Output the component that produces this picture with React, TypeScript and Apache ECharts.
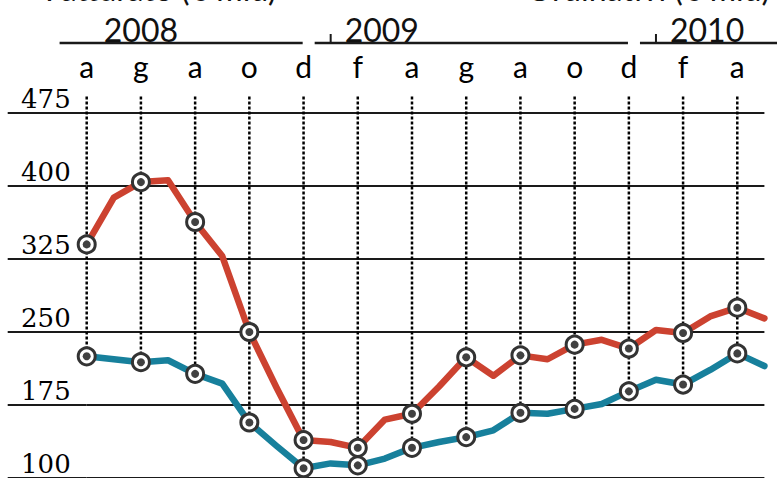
import React, { useEffect, useRef } from "react";
import * as echarts from "echarts";

// Monthly, April 2008 – May 2010 (Italian month initials)
const months = [
  "a", "m", "g", "l", "a", "s", "o", "n", "d",
  "g", "f", "m", "a", "m", "g", "l", "a", "s", "o", "n", "d",
  "g", "f", "m", "a", "m",
];
const fatturato = [
  340, 388, 404, 406, 363, 328, 250, 193, 139,
  137, 131, 160, 166, 194, 224, 205, 226, 222, 237, 242, 233,
  252, 249, 266, 275, 264,
];
const ordinativi = [
  225, 222, 219, 221, 207, 197, 157, 133, 110,
  115, 113, 120, 131, 137, 142, 149, 167, 166, 171, 176, 189,
  201, 196, 211, 228, 215,
];
const yMin = 100;
const yMax = 475;
const yStep = 75;
const guideTop = 492;
const years = ["2008", "2009", "2010"];
const yearStartIndex = [-3, 9, 21]; // January of each year
const titles = ["Fatturato (€ mld)", "Ordinativi (€ mld)"];

const RED = "#cc4230";
const BLUE = "#17809c";
const INK = "#1a1a1a";

export default function App() {
  const ref = useRef<HTMLDivElement>(null);

  useEffect(() => {
    const chart = echarts.init(ref.current!, null, { renderer: "svg" });
    const markerIdx = months.map((_, i) => i).filter((i) => i % 2 === 0);
    const symSize = (_v: any, p: any) => (p.dataIndex % 2 === 0 ? 17 : 0);

    const lineSeries = (name: string, data: number[], color: string) => ({
      name,
      type: "line",
      data,
      z: 3,
      clip: false,
      symbol: "circle",
      showAllSymbol: true,
      symbolSize: symSize,
      itemStyle: { color: "#ffffff", borderColor: "#333333", borderWidth: 3 },
      lineStyle: { color, width: 6.5, cap: "round", join: "round" },
      emphasis: { disabled: true },
    });

    const dotSeries = (data: number[]) => ({
      type: "scatter",
      z: 4,
      silent: true,
      symbol: "circle",
      symbolSize: 8,
      itemStyle: { color: "#111111" },
      data: markerIdx.map((i) => [i, data[i]]),
    });

    // vertical dotted guides: from above the plot down to the lower series' point
    const guideData: any[] = [];
    markerIdx.forEach((i) => {
      guideData.push([i, guideTop]);
      guideData.push([i, Math.min(ordinativi[i], fatturato[i])]);
      guideData.push([i, "-"]);
    });

    chart.setOption({
      animation: false,
      grid: { left: 86.7, top: 113, width: 677.7, height: 369 },
      xAxis: {
        type: "category",
        data: months,
        boundaryGap: false,
        position: "top",
        axisLine: { show: false },
        axisTick: { show: false },
        splitLine: { show: false },
        axisLabel: {
          interval: 1,
          margin: 32,
          fontFamily: "Lato",
          fontSize: 30,
          color: "#000000",
        },
      },
      yAxis: {
        type: "value",
        min: yMin,
        max: yMax,
        interval: yStep,
        axisLine: { show: false },
        axisTick: { show: true, length: 79, lineStyle: { color: INK, width: 2 } },
        splitLine: { lineStyle: { color: INK, width: 2 } },
        axisLabel: {
          margin: 16,
          fontFamily: "DejaVu Serif",
          fontSize: 26,
          color: "#000000",
          verticalAlign: "bottom",
          padding: [0, 0, 1, 0],
        },
      },
      series: [
        {
          type: "line",
          data: guideData,
          z: 1,
          silent: true,
          clip: false,
          symbol: "none",
          connectNulls: false,
          lineStyle: { type: [3, 2], color: "#000000", width: 2.5 },
          emphasis: { disabled: true },
        },
        lineSeries("Ordinativi", ordinativi, BLUE),
        lineSeries("Fatturato", fatturato, RED),
        dotSeries(ordinativi),
        dotSeries(fatturato),
      ],
    });

    const x0 = chart.convertToPixel({ xAxisIndex: 0 }, 0) as number;
    const x1 = chart.convertToPixel({ xAxisIndex: 0 }, 1) as number;
    const step = x1 - x0;
    const xAt = (f: number) => x0 + f * step;
    const lineY = 43;
    const textStyle = {
      fontFamily: "Lato",
      fontSize: 32,
      fill: "#111111",
      verticalAlign: "bottom",
    };
    const graphics: any[] = [];
    years.forEach((y, k) => {
      const start = yearStartIndex[k];
      const next = k + 1 < years.length ? yearStartIndex[k + 1] : null;
      const segStart = k === 0 ? xAt(-1) : xAt(start) - 16;
      const segEnd = next === null ? 777 : xAt(next) - 28;
      graphics.push({
        type: "line",
        shape: { x1: segStart, y1: lineY, x2: segEnd, y2: lineY },
        style: { stroke: INK, lineWidth: 2.5 },
        silent: true,
      });
      if (k === 0) {
        graphics.push({
          type: "text",
          x: xAt(2),
          y: lineY + 2,
          style: { ...textStyle, text: y, align: "center" },
          silent: true,
        });
      } else {
        const tx = xAt(start);
        graphics.push({
          type: "line",
          shape: { x1: tx, y1: lineY - 9, x2: tx, y2: lineY },
          style: { stroke: INK, lineWidth: 2 },
          silent: true,
        });
        graphics.push({
          type: "text",
          x: tx + 14,
          y: lineY + 2,
          style: { ...textStyle, text: y, align: "left" },
          silent: true,
        });
      }
    });
    graphics.push({
      type: "text",
      x: 45,
      y: -12,
      style: { ...textStyle, text: titles[0], align: "left", verticalAlign: "middle" },
      silent: true,
    });
    graphics.push({
      type: "text",
      x: 770,
      y: -12,
      style: { ...textStyle, text: titles[1], align: "right", verticalAlign: "middle" },
      silent: true,
    });
    chart.setOption({ graphic: graphics });

    return () => chart.dispose();
  }, []);

  return (
    <div
      ref={ref}
      style={{ position: "absolute", left: 0, top: 0, width: 777, height: 478, background: "#ffffff" }}
    />
  );
}
